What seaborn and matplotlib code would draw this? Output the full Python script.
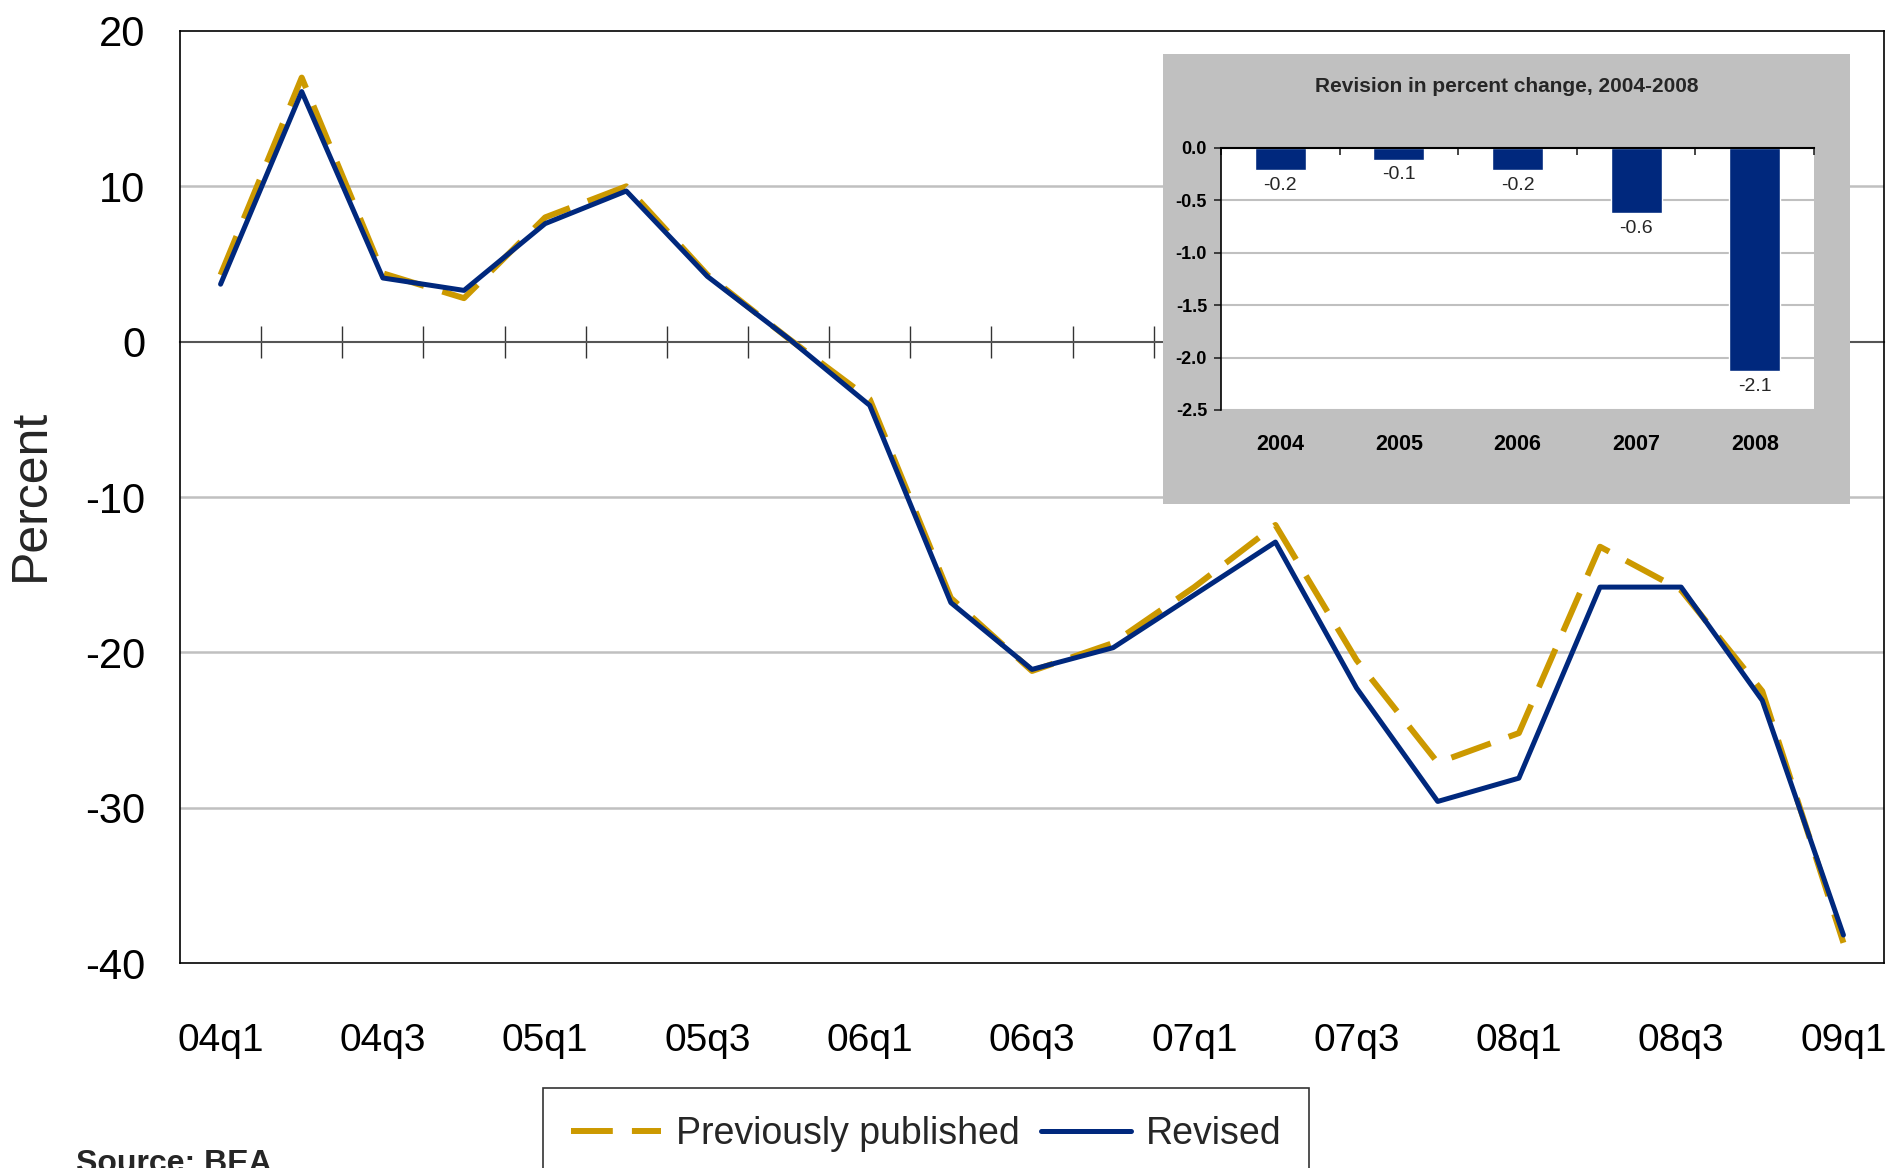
import numpy as np
import pandas as pd
import matplotlib
matplotlib.use("Agg")
import matplotlib.pyplot as plt
import seaborn as sns

# Quarterly series (percent change)
quarters = ['04q1', '04q2', '04q3', '04q4', '05q1', '05q2', '05q3', '05q4',
            '06q1', '06q2', '06q3', '06q4', '07q1', '07q2', '07q3', '07q4',
            '08q1', '08q2', '08q3', '08q4', '09q1']
previous = [4.3, 17.0, 4.4, 2.8, 8.0, 10.0, 4.3, 0.2, -3.7, -16.5, -21.2, -19.4,
            -15.8, -11.8, -20.5, -27.1, -25.2, -13.2, -16.0, -22.5, -38.7]
revised = [3.7, 16.1, 4.1, 3.3, 7.6, 9.7, 4.2, 0.2, -4.1, -16.8, -21.1, -19.7,
           -16.3, -12.9, -22.3, -29.6, -28.1, -15.8, -15.8, -23.1, -38.2]

# Inset: annual revisions
years = ['2004', '2005', '2006', '2007', '2008']
revision = [-0.21, -0.11, -0.21, -0.62, -2.13]
revision_labels = ['-0.2', '-0.1', '-0.2', '-0.6', '-2.1']

GOLD = '#CC9900'
NAVY = '#00287D'
GRID = '#C0C0C0'

sns.set_style('white')
plt.rcParams['font.family'] = ['Liberation Sans', 'DejaVu Sans']
plt.rcParams['axes.unicode_minus'] = False

W, H = 1887, 1168
fig = plt.figure(figsize=(W / 100, H / 100), dpi=100)

# ---- main chart ----
ax = fig.add_axes([180 / W, 1 - 963 / H, 1704 / W, 932 / H])
df = pd.DataFrame({'idx': np.arange(len(quarters)), 'previous': previous, 'revised': revised})

sns.lineplot(data=df, x='idx', y='previous', ax=ax, color=GOLD, lw=4.3,
             linestyle=(0, (7, 3.2)), label='Previously published')
sns.lineplot(data=df, x='idx', y='revised', ax=ax, color=NAVY, lw=3.6,
             label='Revised')

ax.set_xlim(-0.5, len(quarters) - 0.5)
ax.set_ylim(-40, 20)
ax.set_yticks(np.arange(-40, 21, 10))
ax.set_yticklabels([str(v) for v in range(-40, 21, 10)])
ax.set_xticks(np.arange(0, len(quarters), 2))
ax.set_xticklabels(quarters[::2])
ax.tick_params(axis='x', length=0, pad=43, labelsize=28, labelcolor='black')
ax.tick_params(axis='y', length=0, pad=25, labelsize=30, labelcolor='black')
ax.set_xlabel('')
ax.set_ylabel('')
ax.grid(False)
for v in [10, -10, -20, -30]:
    ax.axhline(v, color=GRID, lw=1.8, zorder=0)
for s in ax.spines.values():
    s.set_color('black')
    s.set_linewidth(1.2)

# category axis crossing at zero, with tick marks between quarters
zero_ax = ax.secondary_xaxis(40 / 60)
zero_ax.set_xticks(np.arange(0.5, len(quarters) - 1, 1))
zero_ax.tick_params(direction='inout', length=23, width=1.0, color='#333333',
                    labeltop=False, labelbottom=False)
for s in zero_ax.spines.values():
    s.set_color('#555555')
    s.set_linewidth(1.5)

fig.text(31 / W, 1 - 495 / H, 'Percent', rotation=90, ha='center', va='center', fontsize=36)

handles, labels = ax.get_legend_handles_labels()
ax.get_legend().remove()
leg = fig.legend(handles, labels, loc='upper left', bbox_to_anchor=(543 / W, 1 - 1088 / H),
                 ncol=2, fontsize=27, frameon=True, fancybox=False, edgecolor='black',
                 handlelength=2.4, handletextpad=0.4, columnspacing=0.55, borderpad=0.75,
                 borderaxespad=0)
leg.get_frame().set_linewidth(1.2)

fig.text(76 / W, 1 - 1149 / H, 'Source: BEA', ha='left', va='top', fontsize=23, fontweight='bold')

# ---- inset ----
bg = fig.add_axes([1163 / W, 1 - 504 / H, 687 / W, 450 / H])
bg.set_facecolor(GRID)
bg.set_xticks([])
bg.set_yticks([])
for s in bg.spines.values():
    s.set_visible(False)
bg.set_zorder(3)

ax2 = fig.add_axes([1221 / W, 1 - 410 / H, 593 / W, 262 / H])
ax2.set_zorder(4)
ax2.set_facecolor('white')
sns.barplot(x=years, y=revision, ax=ax2, color=NAVY, width=0.43, saturation=1)
ax2.set_ylim(-2.5, 0)
ax2.set_xlim(-0.5, len(years) - 0.5)
ax2.set_yticks(np.arange(-2.5, 0.01, 0.5))
ax2.set_yticklabels(['%.1f' % v for v in np.arange(-2.5, 0.01, 0.5)], fontweight='bold', fontsize=13)
ax2.set_xticks(np.arange(len(years)))
ax2.set_xticklabels(years, fontweight='bold', fontsize=15.5)
ax2.set_xticks(np.arange(-0.5, len(years), 1), minor=True)
ax2.tick_params(axis='x', which='major', length=0, pad=17, labelcolor='black')
ax2.tick_params(axis='x', which='minor', bottom=False, top=True, direction='in', length=5, width=1.2)
ax2.tick_params(axis='y', left=True, direction='out', length=5, width=1.2, pad=5, labelcolor='black')
ax2.yaxis.grid(True, color=GRID, lw=1.5)
ax2.xaxis.grid(False)
ax2.set_axisbelow(True)
ax2.spines['right'].set_visible(False)
ax2.spines['bottom'].set_visible(False)
ax2.spines['top'].set_color('black')
ax2.spines['top'].set_linewidth(1.5)
ax2.spines['left'].set_color('black')
ax2.spines['left'].set_linewidth(1.2)
ax2.bar_label(ax2.containers[0], labels=revision_labels, padding=5, fontsize=14)

fig.text(1507 / W, 1 - 87 / H, 'Revision in percent change, 2004-2008', ha='center', va='center',
         fontsize=15, fontweight='bold')

fig.savefig('out.png', dpi=100)
